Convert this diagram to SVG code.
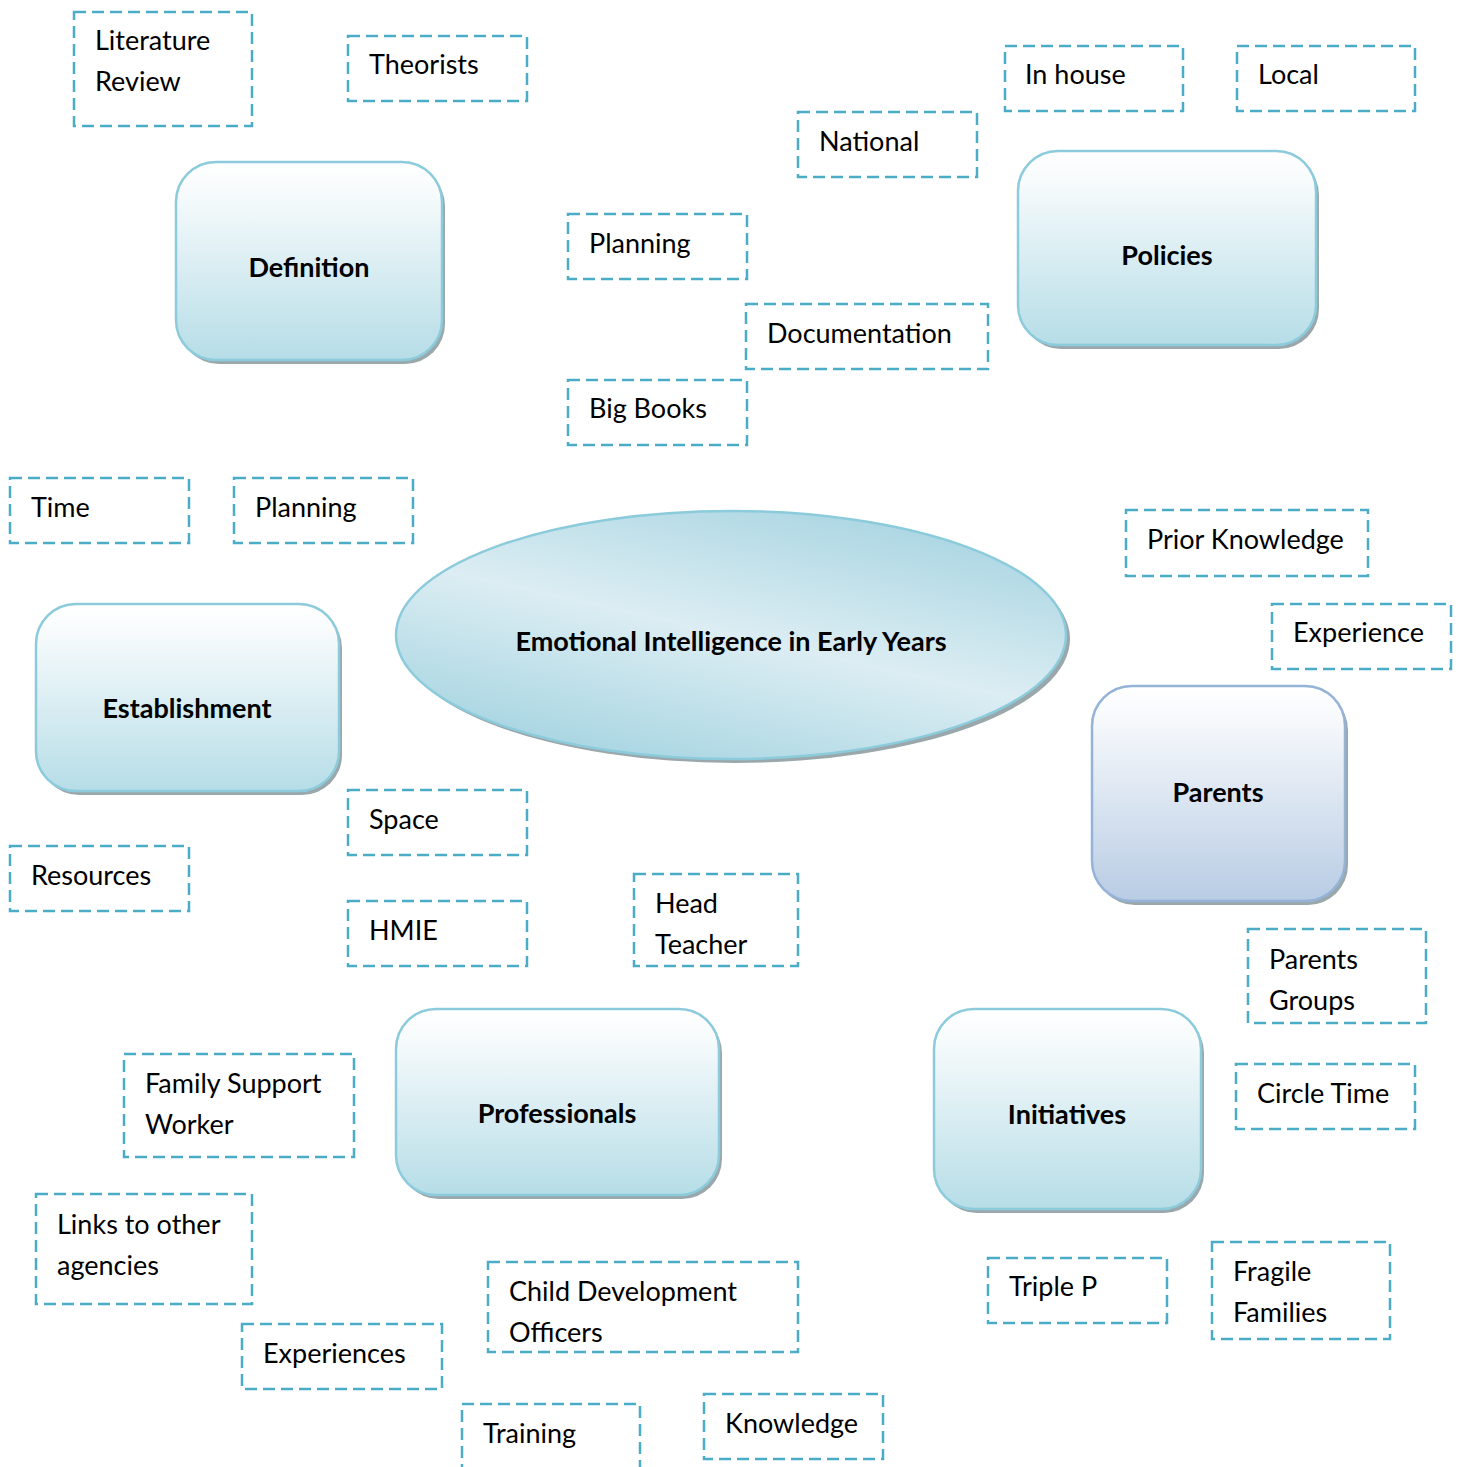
<svg xmlns="http://www.w3.org/2000/svg" width="1461" height="1467" viewBox="0 0 1461 1467">
<style>
.d{fill:#fff;stroke:#4bacc6;stroke-width:2.5;stroke-dasharray:12 6}
.t{font-family:Lato,"Open Sans","Liberation Sans",sans-serif;font-size:27px;fill:#000}
.b{font-family:Lato,"Open Sans","Liberation Sans",sans-serif;font-size:27px;font-weight:bold;fill:#000;text-anchor:middle}
.r{fill:url(#gA);stroke:#8ccbdb;stroke-width:2.5}
.p{fill:url(#gP);stroke:#95b3d7;stroke-width:2.5}
.s{fill:#9aa7ab}
</style>
<defs>
<linearGradient id="gA" x1="0" y1="0" x2="0" y2="1">
<stop offset="0" stop-color="#ffffff"/>
<stop offset="0.15" stop-color="#f7fbfc"/>
<stop offset="1" stop-color="#b6dde7"/>
</linearGradient>
<linearGradient id="gP" x1="0" y1="0" x2="0" y2="1">
<stop offset="0" stop-color="#ffffff"/>
<stop offset="0.15" stop-color="#f7f9fc"/>
<stop offset="1" stop-color="#b8cce4"/>
</linearGradient>
<linearGradient id="gE" x1="0.2" y1="1" x2="0.8" y2="0">
<stop offset="0" stop-color="#a2d3e0"/>
<stop offset="0.5" stop-color="#dcedf3"/>
<stop offset="1" stop-color="#a6d4e1"/>
</linearGradient>
</defs>
<rect width="1461" height="1467" fill="#fff"/>
<g id="connectors"></g>

<g id="center">
<ellipse cx="735" cy="639" rx="335" ry="124" class="s"/>
<ellipse cx="731" cy="635" rx="335" ry="124" fill="url(#gE)" stroke="#8ccbdb" stroke-width="2.5"/>
<text x="731" y="651" class="b">Emotional Intelligence in Early Years</text>
</g>

<g id="definition">
<rect x="179" y="166" width="266" height="198" rx="40" class="s"/>
<rect x="176" y="162" width="266" height="198" rx="40" class="r"/>
<text x="309" y="277" class="b">Definition</text>
</g>
<g id="policies">
<rect x="1021" y="155" width="298" height="194" rx="40" class="s"/>
<rect x="1018" y="151" width="298" height="194" rx="40" class="r"/>
<text x="1167" y="265" class="b">Policies</text>
</g>
<g id="establishment">
<rect x="39" y="608" width="303" height="187" rx="40" class="s"/>
<rect x="36" y="604" width="303" height="187" rx="40" class="r"/>
<text x="187" y="718" class="b">Establishment</text>
</g>
<g id="parents">
<rect x="1095" y="690" width="253" height="215" rx="40" class="s"/>
<rect x="1092" y="686" width="253" height="215" rx="40" class="p"/>
<text x="1218" y="802" class="b">Parents</text>
</g>
<g id="professionals">
<rect x="399" y="1013" width="323" height="186" rx="40" class="s"/>
<rect x="396" y="1009" width="323" height="186" rx="40" class="r"/>
<text x="557" y="1123" class="b">Professionals</text>
</g>
<g id="initiatives">
<rect x="937" y="1013" width="267" height="200" rx="40" class="s"/>
<rect x="934" y="1009" width="267" height="200" rx="40" class="r"/>
<text x="1067" y="1124" class="b">Initiatives</text>
</g>

<g id="literature-review"><rect x="74" y="12" width="178" height="114" class="d"/><text x="95" y="50" class="t">Literature</text><text x="95" y="91" class="t">Review</text></g>
<g id="theorists"><rect x="348" y="36" width="179" height="65" class="d"/><text x="369" y="74" class="t">Theorists</text></g>
<g id="in-house"><rect x="1005" y="46" width="178" height="65" class="d"/><text x="1025" y="84" class="t">In house</text></g>
<g id="local"><rect x="1237" y="46" width="178" height="65" class="d"/><text x="1258" y="84" class="t">Local</text></g>
<g id="national"><rect x="798" y="112" width="179" height="65" class="d"/><text x="819" y="151" class="t">National</text></g>
<g id="planning-top"><rect x="568" y="214" width="179" height="65" class="d"/><text x="589" y="253" class="t">Planning</text></g>
<g id="documentation"><rect x="746" y="304" width="242" height="65" class="d"/><text x="767" y="343" class="t">Documentation</text></g>
<g id="big-books"><rect x="568" y="380" width="179" height="65" class="d"/><text x="589" y="418" class="t">Big Books</text></g>
<g id="time"><rect x="10" y="478" width="179" height="65" class="d"/><text x="31" y="517" class="t">Time</text></g>
<g id="planning-left"><rect x="234" y="478" width="179" height="65" class="d"/><text x="255" y="517" class="t">Planning</text></g>
<g id="prior-knowledge"><rect x="1126" y="510" width="242" height="66" class="d"/><text x="1147" y="549" class="t">Prior Knowledge</text></g>
<g id="experience"><rect x="1272" y="604" width="179" height="65" class="d"/><text x="1293" y="642" class="t">Experience</text></g>
<g id="space"><rect x="348" y="790" width="179" height="65" class="d"/><text x="369" y="829" class="t">Space</text></g>
<g id="resources"><rect x="10" y="846" width="179" height="65" class="d"/><text x="31" y="885" class="t">Resources</text></g>
<g id="hmie"><rect x="348" y="901" width="179" height="65" class="d"/><text x="369" y="940" class="t">HMIE</text></g>
<g id="head-teacher"><rect x="634" y="874" width="164" height="92" class="d"/><text x="655" y="913" class="t">Head</text><text x="655" y="954" class="t">Teacher</text></g>
<g id="parents-groups"><rect x="1248" y="929" width="178" height="94" class="d"/><text x="1269" y="969" class="t">Parents</text><text x="1269" y="1010" class="t">Groups</text></g>
<g id="circle-time"><rect x="1236" y="1064" width="179" height="65" class="d"/><text x="1257" y="1103" class="t">Circle Time</text></g>
<g id="family-support-worker"><rect x="124" y="1054" width="230" height="103" class="d"/><text x="145" y="1093" class="t">Family Support</text><text x="145" y="1134" class="t">Worker</text></g>
<g id="links-to-other-agencies"><rect x="36" y="1194" width="216" height="110" class="d"/><text x="57" y="1234" class="t">Links to other</text><text x="57" y="1275" class="t">agencies</text></g>
<g id="experiences"><rect x="242" y="1324" width="200" height="65" class="d"/><text x="263" y="1363" class="t">Experiences</text></g>
<g id="child-development-officers"><rect x="488" y="1262" width="310" height="90" class="d"/><text x="509" y="1301" class="t">Child Development</text><text x="509" y="1342" class="t">Officers</text></g>
<g id="triple-p"><rect x="988" y="1258" width="179" height="65" class="d"/><text x="1009" y="1296" class="t">Triple P</text></g>
<g id="fragile-families"><rect x="1212" y="1242" width="178" height="97" class="d"/><text x="1233" y="1281" class="t">Fragile</text><text x="1233" y="1322" class="t">Families</text></g>
<g id="training"><rect x="462" y="1404" width="178" height="65" class="d"/><text x="483" y="1443" class="t">Training</text></g>
<g id="knowledge"><rect x="704" y="1394" width="179" height="65" class="d"/><text x="725" y="1433" class="t">Knowledge</text></g>
</svg>
